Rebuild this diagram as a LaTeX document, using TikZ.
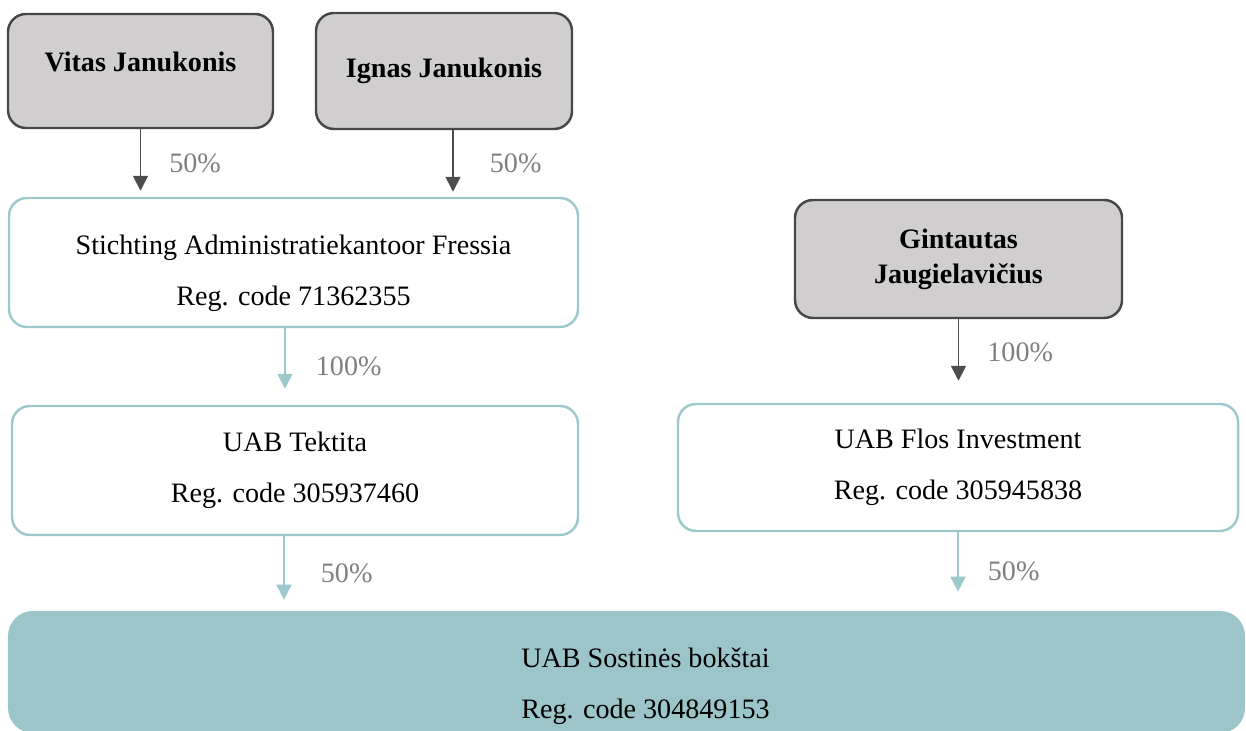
\documentclass[tikz,border=0pt]{standalone}
\usepackage{fontspec}
\setmainfont{Liberation Serif}
\usetikzlibrary{arrows.meta,positioning}

\definecolor{ownerfill}{HTML}{D0CECF}
\definecolor{ownerline}{HTML}{474747}
\definecolor{tealline}{HTML}{9DC8CC}
\definecolor{tealfill}{HTML}{9BC5C8}
\definecolor{arrowdark}{HTML}{4D4D4D}
\definecolor{pctgrey}{HTML}{7F7F7F}

\begin{document}
\begin{tikzpicture}[
    owner/.style={draw=ownerline,line width=1.4pt,fill=ownerfill,rounded corners=0.36cm,
        align=center,font=\bfseries\fontsize{16}{20}\selectfont},
    company/.style={draw=tealline,line width=1.4pt,fill=white,rounded corners=0.36cm,
        align=center,font=\fontsize{16}{29}\selectfont},
    target/.style={fill=tealfill,rounded corners=0.5cm},
    pct/.style={text=pctgrey,inner sep=0pt,font=\fontsize{16}{19}\selectfont},
    darkarrow/.style={draw=arrowdark,line width=1pt,-{Triangle[width=0.3cm,length=0.3cm]}},
    tealarrow/.style={draw=tealline,line width=1pt,-{Triangle[width=0.3cm,length=0.3cm]}}
  ]
        \useasboundingbox (0,0) rectangle (24.92,14.62);

        %%% Owners
        \node[owner,minimum width=5.3cm,minimum height=2.28cm,text depth=0.36cm] (vitas) at (2.81,13.2) {Vitas Janukonis};
        \node[owner,minimum width=5.12cm,minimum height=2.32cm] (ignas) at (8.88,13.2) {Ignas Janukonis};
        \node[owner,minimum width=6.54cm,minimum height=2.36cm] (gintautas) at (19.17,9.44) {Gintautas\\Jaugielavičius};

        %%% Companies
        \node[company,minimum width=11.38cm,minimum height=2.58cm,text height=1.83cm] (stichting) at (5.87,9.37) {Stichting Administratiekantoor Fressia\\Reg. code 71362355};
        \node[company,minimum width=11.32cm,minimum height=2.58cm] (tektita) at (5.9,5.21) {UAB Tektita\\Reg. code 305937460};
        \node[company,minimum width=11.2cm,minimum height=2.54cm] (flos) at (19.16,5.27) {UAB Flos Investment\\Reg. code 305945838};

        \node[target,minimum width=24.74cm,minimum height=2.44cm] (sostines) at (12.53,1.18) {};
        \node[align=center,font=\fontsize{16}{29}\selectfont] (sostinestext) at ([xshift=0.38cm,yshift=-0.28cm]sostines.center) {UAB Sostinės bokštai\\Reg. code 304849153};

        \coordinate (ignasout) at ([xshift=0.18cm]ignas.south);
        \coordinate (stichtingout) at ([xshift=-0.17cm]stichting.south);
        \coordinate (tektitaout) at ([xshift=-0.22cm]tektita.south);

        %%% Shares
        \draw[darkarrow,shorten >=0.12cm] (vitas.south) -- node[pct,right=0.56cm] {50\%} (vitas.south |- stichting.north);
        \draw[darkarrow,shorten >=0.1cm] (ignasout) -- node[pct,right=0.72cm] {50\%} (ignasout |- stichting.north);
        \draw[darkarrow,shorten >=0.44cm] (gintautas.south) -- node[pct,pos=0.4,right=0.56cm] {100\%} (gintautas.south |- flos.north);
        \draw[tealarrow,shorten >=0.32cm] (stichtingout) -- node[pct,right=0.6cm] {100\%} (stichtingout |- tektita.north);
        \draw[tealarrow,shorten >=0.22cm] (tektitaout) -- node[pct,right=0.72cm] {50\%} (tektitaout |- sostines.north);
        \draw[tealarrow,shorten >=0.38cm] (flos.south) -- node[pct,right=0.58cm] {50\%} (flos.south |- sostines.north);
    \end{tikzpicture}
\end{document}
